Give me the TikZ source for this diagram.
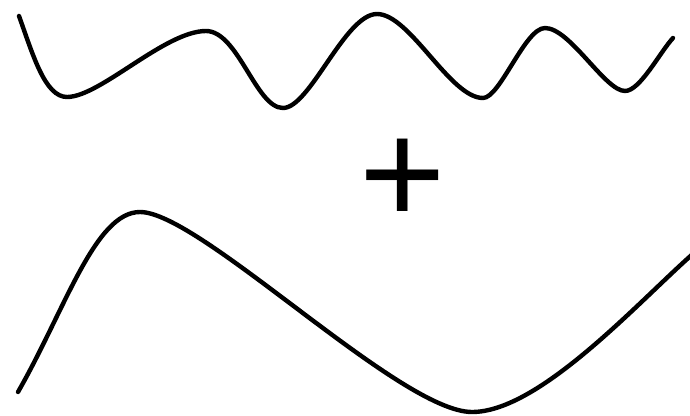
\documentclass[tikz,border=0pt]{standalone}
\usepackage{fontspec}
\setmainfont{Liberation Sans}
\begin{document}
\begin{tikzpicture}[x=1pt,y=-1pt,
  wave/.style={line width=4.4pt,line cap=round,line join=round}]
\useasboundingbox (0,0) rectangle (690,415);
% top wave
\draw[wave] (19,16) .. controls (33,55) and (45,97) .. (67,97)
  .. controls (100,97) and (165,31) .. (206,31)
  .. controls (238,31) and (256,108) .. (283,108)
  .. controls (310,108) and (345,14) .. (377,14)
  .. controls (410,14) and (450,98) .. (483,98)
  .. controls (500,98) and (525,28) .. (545,28)
  .. controls (570,28) and (605,91) .. (625,91)
  .. controls (640,91) and (660,52) .. (673,38);
% plus sign
\node (plus) [anchor=base west,inner sep=0pt,font=\fontsize{148}{148}\selectfont] at (359.5,224.8) {+};
% bottom wave
\draw[wave] (18,392) .. controls (65,310) and (95,212) .. (140,212)
  .. controls (200,212) and (400,412) .. (472,412)
  .. controls (540,412) and (640,300) .. (695,252);
\end{tikzpicture}
\end{document}
